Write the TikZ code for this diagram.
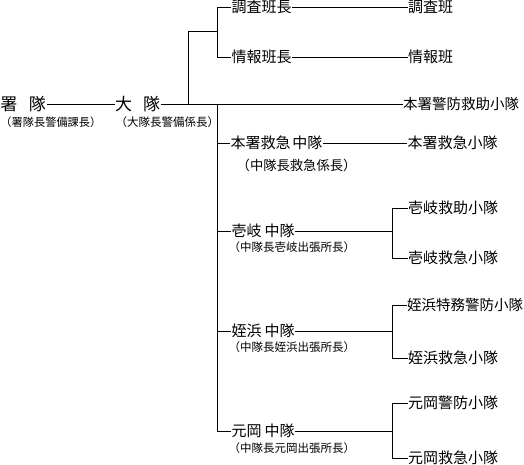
\documentclass[tikz,border=0pt]{standalone}
\usepackage{fontspec}
\newfontfamily\jp{Noto Sans CJK JP}
\begin{document}
\begin{tikzpicture}[x=1pt,y=-1pt,line width=1pt,
  big/.style={anchor=west,inner sep=0pt,font=\jp\fontsize{17}{19}\selectfont,text height=14.5pt,text depth=2pt},
  lbl/.style={anchor=west,inner sep=0pt,font=\jp\fontsize{15}{17}\selectfont,text height=12.8pt,text depth=1.8pt},
  lbln/.style={lbl,font=\jp\fontsize{14.5}{17}\selectfont},
  subs/.style={anchor=west,inner sep=0pt,font=\jp\fontsize{11.5}{13}\selectfont,text height=10.1pt,text depth=1.4pt},
  subm/.style={anchor=west,inner sep=0pt,font=\jp\fontsize{13.3}{15}\selectfont,text height=11.7pt,text depth=1.6pt}]
\useasboundingbox (0,0) rectangle (524,464);
% left
\node[big] (sho) at (0,104) {署\hspace{11.5pt}隊};
\node[subs,font=\jp\fontsize{11.2}{13}\selectfont] (shoS) at (0,122) {（署隊長警備課長）};
\node[big] (dai) at (114.5,104) {大\hspace{11pt}隊};
\node[subs] (daiS) at (115,122) {（大隊長警備係長）};
% top
\node[lbl] (chosaC) at (231,7) {調査班長};
\node[lbl] (chosa) at (407.5,7) {調査班};
\node[lbl] (johoC) at (231,57) {情報班長};
\node[lbl] (joho) at (407.5,57) {情報班};
\node[lbln] (honKB) at (402.5,104) {本署警防救助小隊};
% honsho
\node[lbl] (honQ) at (230,143) {本署救急\hspace{2pt}中隊};
\node[subm] (honQS) at (236.2,165) {（中隊長救急係長）};
\node[lbl] (honQs) at (407,143) {本署救急小隊};
% iki
\node[lbl] (iki) at (231,231) {壱岐\hspace{3pt}中隊};
\node[subs] (ikiS) at (228,247) {（中隊長壱岐出張所長）};
\node[lbl] (ikiA) at (407.5,208) {壱岐救助小隊};
\node[lbl] (ikiB) at (407.5,258) {壱岐救急小隊};
% meinohama
\node[lbl] (mei) at (231,331) {姪浜\hspace{3pt}中隊};
\node[subs] (meiS) at (228,347) {（中隊長姪浜出張所長）};
\node[lbln] (meiA) at (406.5,305) {姪浜特務警防小隊};
\node[lbl] (meiB) at (407.5,358) {姪浜救急小隊};
% motooka
\node[lbl] (moto) at (231,431) {元岡\hspace{3pt}中隊};
\node[subs] (motoS) at (228,448) {（中隊長元岡出張所長）};
\node[lbl] (motoA) at (407.5,403) {元岡警防小隊};
\node[lbl] (motoB) at (407.5,458) {元岡救急小隊};
% junctions
\coordinate (j0) at (188,104);
\coordinate (j0t) at (188,31);
\coordinate (j1) at (217,31);
\coordinate (j1t) at (217,7);
\coordinate (j1b) at (217,57);
\coordinate (j2) at (217,104);
\coordinate (j2b) at (217,431);
\coordinate (k1) at (392,231);
\coordinate (k2) at (392,331);
\coordinate (k3) at (392,431);
% connectors
\draw (sho.east) -- (dai.west);
\draw (dai.east) -- (honKB.west);
\draw (j0) -- (j0t) -- (j1);
\draw (j1t) -- (j1b);
\draw (j1t) -- (chosaC.west);
\draw (chosaC.east) -- (chosa.west);
\draw (j1b) -- (johoC.west);
\draw (johoC.east) -- (joho.west);
\draw (j2) -- (j2b);
\draw (j2 |- honQ.west) -- (honQ.west);
\draw (honQ.east) -- (honQs.west);
\draw (j2 |- iki.west) -- (iki.west);
\draw (iki.east) -- (k1);
\draw (k1 |- ikiA.west) -- (k1 |- ikiB.west);
\draw (k1 |- ikiA.west) -- (ikiA.west);
\draw (k1 |- ikiB.west) -- (ikiB.west);
\draw (j2 |- mei.west) -- (mei.west);
\draw (mei.east) -- (k2);
\draw (k2 |- meiA.west) -- (k2 |- meiB.west);
\draw (k2 |- meiA.west) -- (meiA.west);
\draw (k2 |- meiB.west) -- (meiB.west);
\draw (j2b) -- (moto.west);
\draw (moto.east) -- (k3);
\draw (k3 |- motoA.west) -- (k3 |- motoB.west);
\draw (k3 |- motoA.west) -- (motoA.west);
\draw (k3 |- motoB.west) -- (motoB.west);
\end{tikzpicture}
\end{document}
